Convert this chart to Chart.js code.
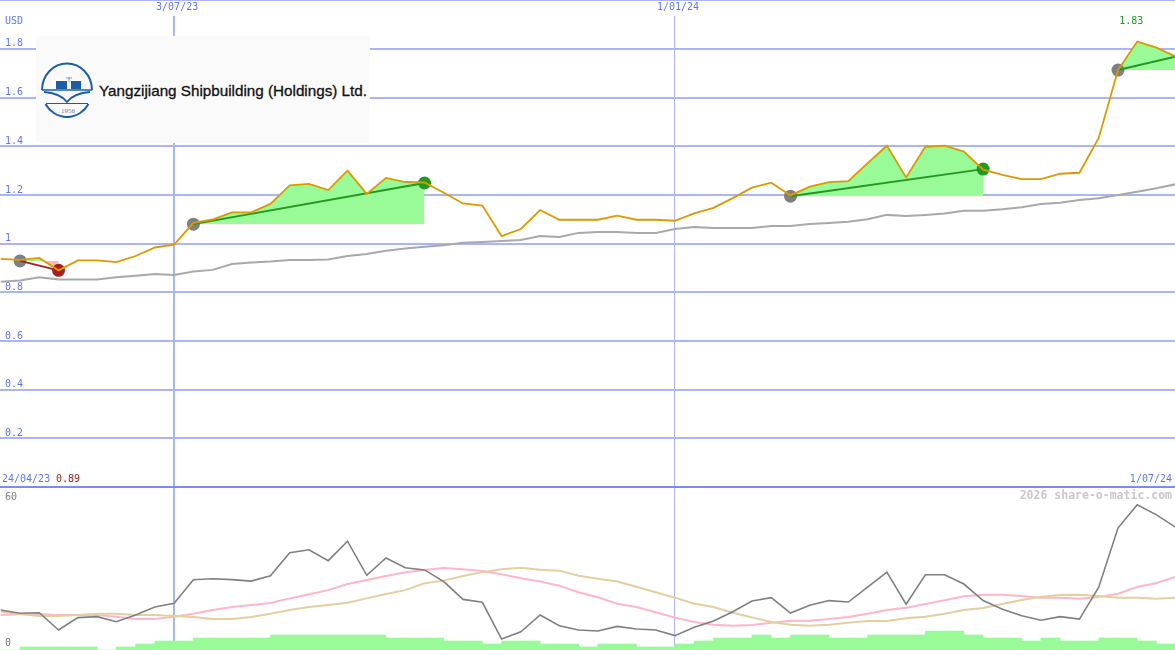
<!DOCTYPE html>
<html>
<head>
<meta charset="utf-8">
<style>
html,body{margin:0;padding:0;background:#fff;width:1175px;height:650px;overflow:hidden}
canvas{position:absolute;left:0;display:block}
#topLine{position:absolute;left:0;top:0;width:1175px;height:1px;background:#a9b6f2}
#logo{position:absolute;left:36px;top:36px}
</style>
<script src="https://cdn.jsdelivr.net/npm/chart.js@4"></script>
</head>
<body>
<canvas id="priceChart" width="1175" height="489" style="top:0"></canvas>
<canvas id="oscChart" width="1175" height="162" style="top:488px"></canvas>
<div id="topLine"></div>
<svg id="logo" width="334" height="107" viewBox="36 36 334 107" xmlns="http://www.w3.org/2000/svg">
  <rect x="36" y="36" width="334" height="107" fill="#fafafa"/>
  <path d="M42 90 A25 26.5 0 0 1 92 90" fill="none" stroke="#1c5ca8" stroke-width="2"/>
  <path d="M45.5 104 A25 26.5 0 0 0 88.5 104" fill="none" stroke="#1c5ca8" stroke-width="2"/>
  <path d="M42 90 H92" fill="none" stroke="#1c5ca8" stroke-width="1.6"/>
  <path d="M44 92 Q60 93 67 102 Q74 93 90 92" fill="none" stroke="#1c5ca8" stroke-width="1.8"/>
  <path d="M46 103.5 H88" fill="none" stroke="#1c5ca8" stroke-width="1.2"/>
  <rect x="56" y="81" width="11" height="8" fill="#1c5ca8"/>
  <rect x="71" y="81" width="10" height="8" fill="#1c5ca8"/>
  <path d="M69 77 V82 M66 78 H72" stroke="#7a9cc8" stroke-width="1"/>
  <text x="68" y="113" font-family="Liberation Serif" font-size="7" fill="#5f83b5" text-anchor="middle">1956</text>
  <text x="99" y="96" font-family="Liberation Sans" font-size="14.5" fill="#111" stroke="#111" stroke-width="0.3" textLength="268" lengthAdjust="spacingAndGlyphs">Yangzijiang Shipbuilding (Holdings) Ltd.</text>
</svg>
<script>
const dateTickIndex = [9, 35];
const dateTickLabels = ['3/07/23', '1/01/24'];
const priceTicks = [0, 0.2, 0.4, 0.6, 0.8, 1, 1.2, 1.4, 1.6, 1.8];
const oscTicks = [0, 60];

const price = [0.937,0.933,0.941,0.89,0.931,0.931,0.924,0.949,0.984,0.996,
  1.085,1.099,1.128,1.128,1.163,1.239,1.245,1.22,1.3,1.204,
  1.27,1.253,1.251,1.209,1.165,1.156,1.031,1.06,1.138,1.098,
  1.098,1.098,1.115,1.098,1.098,1.094,1.124,1.147,1.187,1.23,
  1.25,1.198,1.234,1.253,1.257,1.33,1.402,1.272,1.398,1.402,
  1.378,1.304,1.282,1.265,1.265,1.287,1.291,1.434,1.713,1.83,
  1.805,1.768];
const longAverage = [0.843,0.848,0.862,0.853,0.853,0.853,0.862,0.868,0.875,0.871,
  0.885,0.892,0.916,0.922,0.926,0.933,0.933,0.935,0.949,0.957,
  0.971,0.98,0.987,0.993,1.004,1.007,1.011,1.015,1.031,1.027,
  1.044,1.048,1.048,1.044,1.044,1.06,1.068,1.064,1.064,1.064,
  1.072,1.072,1.081,1.085,1.09,1.1,1.118,1.113,1.118,1.124,
  1.135,1.135,1.141,1.149,1.163,1.168,1.179,1.186,1.2,1.213,
  1.227,1.244];
const oscillator = [16.4,15.1,15.3,8.2,13.3,13.7,11.6,14.4,17.7,19.2,
  28.9,29.3,28.9,28.3,30.5,40,41.2,36.7,44.7,30.7,
  37.8,33.8,32.9,28.1,20.8,19.6,4.5,7.5,14.4,10,
  8.2,7.8,9.7,8.6,8.2,5.9,9.3,11.9,15.7,20.1,
  21.5,15.2,18.4,20.3,19.7,25.8,32,18.8,30.9,30.9,
  27.1,20.3,16.7,14.1,12.2,13.7,12.7,25.8,50.1,59.7,
  55.5,50.4];
const oscPink = [14.4,14.7,14.8,14.4,14.4,14.4,13.7,12.7,12.7,13.7,
  14.9,16.4,17.7,18.5,19.3,21.2,22.9,24.6,27.1,28.8,
  30.4,31.9,32.9,33.7,33.2,32.5,31.1,29.5,28.1,26.4,
  23.7,21.7,19,17.7,15.5,13.3,11.5,10.4,10,10.3,
  11.2,12,12,12.7,13.6,14.9,16.4,17.4,18.9,20.4,
  22.1,22.7,22.7,22.2,21.5,21.5,21.1,21.8,23.1,25.9,
  27.5,30.1];
const oscTan = [15.7,14.8,14,14,14.4,14.9,14.9,14.4,14.4,14,
  13.6,12.7,12.7,13.6,14.9,16.4,17.7,18.5,19.4,21.2,
  23,24.6,27.4,28.5,30.4,32,33.2,33.8,33,32.6,
  30.5,29.3,28.1,26,23.7,21.5,19,17.7,15.3,13.4,
  11.5,10.4,10,10.4,11.2,11.9,11.9,13,13.7,14.9,
  16.4,17.3,18.9,20.5,21.9,22.6,22.7,22.2,21.5,21.5,
  21.1,21.5];
const volumeBars = [0,1,1,1,1,0,1,2,3,3,
  4,4,4,4,5,5,5,5,5,5,
  4,4,4,3,3,2,3,3,2,2,
  1,2,2,1,1,2,3,4,4,5,
  4,5,5,4,4,5,5,5,6.3,6.3,
  5,4,4,3,4,3,3,4,4,3,
  2];

const trendStartIndex = [1, 10, 41, 58];
const trendEndIndex = [3, 22, 51, 61];
const trendStartValue = [0.929, 1.08, 1.195, 1.713];
const trendEndValue = [0.89, 1.249, 1.306, 1.768];
const trendColor = ['#a52020', '#229922', '#229922', '#229922'];
const trendEndDotColor = ['#a52020', '#229922', '#229922', null];

const BLUE_GRID = '#a9b6f2', SEPARATOR = '#7b8cf0', BLUE_TEXT = '#5f75f5';
const MONO = '"DejaVu Sans Mono", monospace';
const X_MIN = -0.04, X_MAX = 60.96;

const series = arr => arr.map((y, i) => ({x: i, y}));
const noPadding = s => { s.paddingTop = s.paddingBottom = s.paddingLeft = s.paddingRight = 0; };
const xGrid = {
  lineWidth: c => (c.tick && c.tick.value === dateTickIndex[0] ? 2 : 1),
  color: BLUE_GRID, drawTicks: false, offset: false
};
const setDateTicks = s => { s.ticks = dateTickIndex.map(value => ({value})); };

const datasets = [];
trendStartIndex.forEach((a, k) => {
  const b = trendEndIndex[k];
  datasets.push({
    data: price.slice(a, b + 1).map((y, i) => ({x: a + i, y})),
    borderWidth: 0, pointRadius: 0, tension: 0, order: 50,
    fill: {target: {value: trendStartValue[k]}, above: '#98fb98', below: '#ffb6c1'},
    backgroundColor: 'transparent', borderColor: 'transparent'
  });
});
trendStartIndex.forEach((a, k) => {
  const b = trendEndIndex[k];
  datasets.push({
    data: [{x: a, y: trendStartValue[k]}], showLine: false,
    pointRadius: 6.5, pointBackgroundColor: '#808080', pointBorderWidth: 0, order: 30
  });
  if (trendEndDotColor[k]) datasets.push({
    data: [{x: b, y: trendEndValue[k]}], showLine: false,
    pointRadius: 6.5, pointBackgroundColor: trendEndDotColor[k], pointBorderWidth: 0, order: 30
  });
  datasets.push({
    data: [{x: a, y: trendStartValue[k]}, {x: b, y: trendEndValue[k]}],
    borderColor: trendColor[k], borderWidth: 2, pointRadius: 0, tension: 0, order: 20
  });
});
datasets.push({data: series(longAverage), borderColor: '#a9a9a9', borderWidth: 2, pointRadius: 0, tension: 0, order: 25});
datasets.push({data: series(price), borderColor: '#dd9900', borderWidth: 1.8, pointRadius: 0, tension: 0, order: 10});

const priceLabels = {
  id: 'priceLabels',
  afterDraw(chart) {
    const {ctx, scales: {x, y}} = chart;
    ctx.save();
    ctx.font = '10px ' + MONO;
    ctx.textBaseline = 'middle';
    const put = (t, px, py, color, align) => { ctx.fillStyle = color; ctx.textAlign = align; ctx.fillText(t, px, py); };
    put('USD', 5, 21, BLUE_TEXT, 'left');
    put('1.83', x.getPixelForValue(59) - 6, y.getPixelForValue(1.83) - 20, '#229922', 'center');
    put('24/04/23', 2, 479, BLUE_TEXT, 'left');
    put('0.89', 56, 479, '#a52020', 'left');
    put('1/07/24', 1172, 479, BLUE_TEXT, 'right');
    ctx.restore();
  }
};
const oscLabels = {
  id: 'oscLabels',
  afterDraw(chart) {
    const {ctx} = chart;
    ctx.save();
    ctx.font = 'bold 11.5px ' + MONO;
    ctx.textBaseline = 'middle';
    ctx.textAlign = 'right';
    ctx.fillStyle = '#c8c8c8';
    ctx.fillText('2026 share-o-matic.com', 1172, 8);
    ctx.restore();
  }
};

new Chart(document.getElementById('priceChart'), {
  type: 'line',
  data: {datasets},
  plugins: [priceLabels],
  options: {
    responsive: false, animation: false, devicePixelRatio: 1,
    layout: {autoPadding: false, padding: {left: 0, right: 0, top: 0, bottom: 2}},
    plugins: {legend: {display: false}, tooltip: {enabled: false}},
    scales: {
      x: {
        type: 'linear', position: 'top', min: X_MIN, max: X_MAX, offset: false,
        afterBuildTicks: setDateTicks,
        afterFit: s => { s.height = 16; noPadding(s); },
        border: {display: false},
        grid: xGrid,
        ticks: {
          callback: v => dateTickLabels[dateTickIndex.indexOf(v)] || '',
          autoSkip: false, maxRotation: 0, padding: 3, labelOffset: 3,
          color: BLUE_TEXT, font: {family: MONO, size: 10}
        }
      },
      y: {
        min: 0, max: (487 - 16) / 243.4,
        afterBuildTicks: s => { s.ticks = priceTicks.map(value => ({value})); },
        afterFit: s => { s.width = 0; noPadding(s); },
        border: {display: false},
        grid: {
          drawTicks: false, lineWidth: 2,
          color: c => (c.tick && c.tick.value === 0 ? SEPARATOR : BLUE_GRID)
        },
        ticks: {
          mirror: true, padding: 5, labelOffset: -5, color: BLUE_TEXT,
          font: {family: MONO, size: 10},
          callback: v => (v === 0 ? '' : String(v))
        }
      }
    }
  }
});

new Chart(document.getElementById('oscChart'), {
  type: 'line',
  data: {
    datasets: [
      {type: 'bar', yAxisID: 'vol', data: volumeBars.map((y, i) => ({x: i + 0.5, y})),
       backgroundColor: '#98fb98', borderWidth: 0, barPercentage: 1, categoryPercentage: 1, order: 40},
      {data: series(oscPink), borderColor: '#ffb6c8', borderWidth: 2, pointRadius: 0, tension: 0, order: 30},
      {data: series(oscTan), borderColor: '#e3cfa0', borderWidth: 2, pointRadius: 0, tension: 0, order: 25},
      {data: series(oscillator), borderColor: '#808080', borderWidth: 1.6, pointRadius: 0, tension: 0, order: 10}
    ]
  },
  plugins: [oscLabels],
  options: {
    responsive: false, animation: false, devicePixelRatio: 1,
    layout: {autoPadding: false, padding: 0},
    plugins: {legend: {display: false}, tooltip: {enabled: false}},
    scales: {
      x: {
        type: 'linear', min: X_MIN, max: X_MAX, offset: false,
        afterBuildTicks: setDateTicks,
        afterFit: s => { s.height = 0; noPadding(s); },
        border: {display: false},
        grid: xGrid,
        ticks: {display: false}
      },
      y: {
        min: 0, max: 162 / 2.434,
        afterBuildTicks: s => { s.ticks = oscTicks.map(value => ({value})); },
        afterFit: s => { s.width = 0; noPadding(s); },
        border: {display: false},
        grid: {display: false},
        ticks: {mirror: true, padding: 5, labelOffset: -7, color: '#808080', font: {family: MONO, size: 10}}
      },
      vol: {display: false, min: 0, max: 54}
    }
  }
});
</script>
</body>
</html>
